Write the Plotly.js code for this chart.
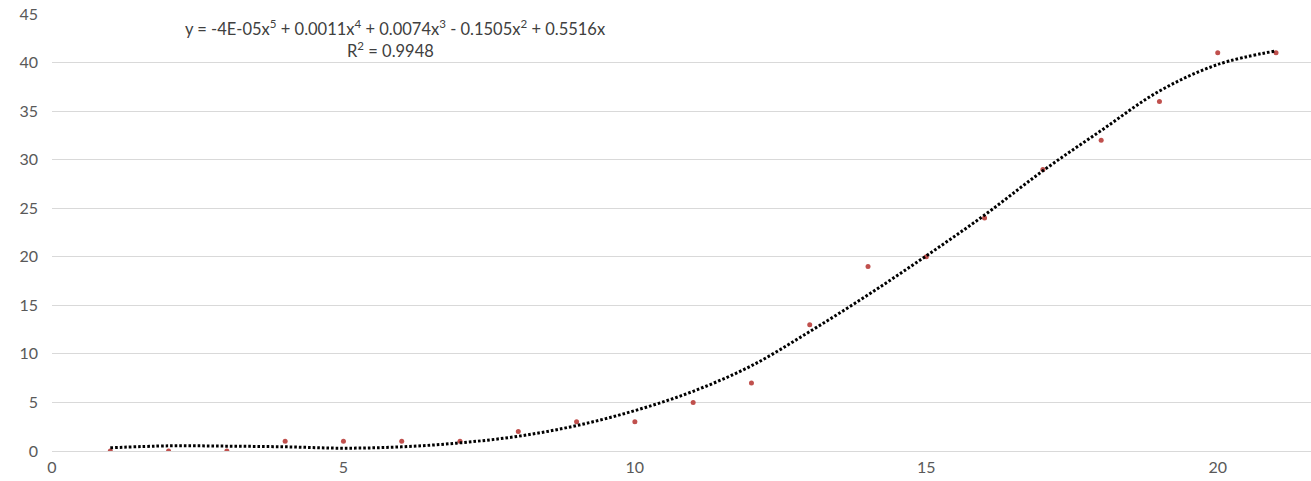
<!DOCTYPE html>
<html>
<head>
<meta charset="utf-8">
<script src="https://cdn.plot.ly/plotly-3.0.1.min.js"></script>
<style>html,body{margin:0;padding:0;background:#fff;}#chart{width:1311px;height:481px;}</style>
</head>
<body>
<div id="chart"></div>
<script>
// observed data points
const xValues = [1,2,3,4,5,6,7,8,9,10,11,12,13,14,15,16,17,18,19,20,21];
const yValues = [0,0,0,1,1,1,1,2,3,3,5,7,13,19,20,24,29,32,36,41,41];
// polynomial trendline
const trendX = [1,2,3,4,5,6,7,8,9,10,11,12,13,14,15,16,17,18,19,20,21];
const trendY = [0.33,0.53,0.5,0.43,0.29,0.43,0.84,1.52,2.62,4.16,6.15,8.78,12.3,16.08,20.1,24.3,28.85,33.0,37.07,39.8,41.2];
const xTicks = [0,5,10,15,20];
const yTicks = [0,5,10,15,20,25,30,35,40,45];
const equationText = 'y = -4E-05x<sup>5</sup> + 0.0011x<sup>4</sup> + 0.0074x<sup>3</sup> - 0.1505x<sup>2</sup> + 0.5516x';
const r2Text = 'R<sup>2</sup> = 0.9948';

const font = 'Lato, "Liberation Sans", sans-serif';

const traces = [
  {
    x: xValues, y: yValues, type: 'scatter', mode: 'markers',
    marker: {color: '#c0504d', size: 5},
    hoverinfo: 'x+y', showlegend: false
  },
  {
    x: trendX, y: trendY, type: 'scatter', mode: 'lines',
    line: {color: '#000000', width: 3, dash: '2.6px,2px', shape: 'spline', smoothing: 1},
    hoverinfo: 'skip', showlegend: false
  }
];

const layout = {
  width: 1311, height: 481,
  margin: {l: 52, r: 0, t: 13.5, b: 29.5},
  paper_bgcolor: '#ffffff', plot_bgcolor: '#ffffff',
  font: {family: font, size: 16, color: '#595959'},
  showlegend: false,
  xaxis: {
    range: [0, 21.6], tickvals: xTicks, ticktext: xTicks.map(String),
    showgrid: false, zeroline: false,
    showline: true, linecolor: '#d9d9d9', linewidth: 1,
    ticks: '', ticklabelstandoff: 2,
    tickfont: {family: font, size: 16, color: '#595959'}
  },
  yaxis: {
    range: [0, 45], tickvals: yTicks, ticktext: yTicks.map(String),
    showgrid: true, gridcolor: '#d9d9d9', gridwidth: 1,
    zeroline: false, showline: false,
    ticks: '', ticklabelstandoff: 13,
    tickfont: {family: font, size: 16, color: '#595959'}
  },
  annotations: [
    {
      xref: 'paper', yref: 'paper', x: (395-52)/1259, y: 1 - (28-13.5)/438,
      text: equationText, showarrow: false, xanchor: 'center', yanchor: 'middle',
      font: {family: font, size: 16.5, color: '#404040'}
    },
    {
      xref: 'paper', yref: 'paper', x: (390-52)/1259, y: 1 - (50-13.5)/438,
      text: r2Text, showarrow: false, xanchor: 'center', yanchor: 'middle',
      font: {family: font, size: 16.5, color: '#404040'}
    }
  ]
};

Plotly.newPlot('chart', traces, layout, {displayModeBar: false, staticPlot: true});
</script>
</body>
</html>
